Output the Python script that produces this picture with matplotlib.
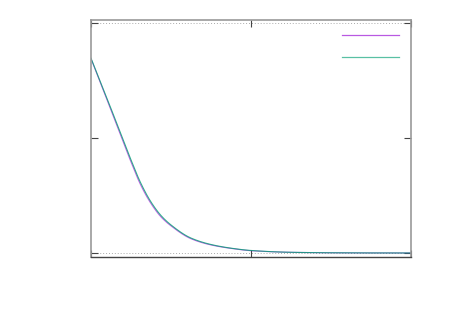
import numpy as np
import matplotlib
matplotlib.use("Agg")
import matplotlib.pyplot as plt
from matplotlib.lines import Line2D

# values
x = [0.0, 0.0625, 0.125, 0.1875, 0.25, 0.3125, 0.375, 0.4375, 0.5, 0.625, 0.75, 0.875, 1.0, 1.25, 1.5, 1.75, 2.0]
y_a = [0.845, 0.734, 0.621, 0.508, 0.396, 0.293, 0.215, 0.157, 0.118, 0.062, 0.035, 0.020, 0.010, 0.003, 0.001, 0.0003, 0.0001]
y_b = [0.847, 0.738, 0.628, 0.517, 0.405, 0.302, 0.222, 0.163, 0.122, 0.065, 0.037, 0.021, 0.011, 0.003, 0.001, 0.0003, 0.0001]
labels = [" ", " "]
colors = ["#9400d3", "#009e73"]


def pchip(xk, yk, xs):
    # monotone cubic through the read points, just for a smooth line
    xk = np.asarray(xk, float)
    yk = np.asarray(yk, float)
    h = np.diff(xk)
    d = np.diff(yk) / h
    m = np.zeros_like(yk)
    for i in range(1, len(xk) - 1):
        if d[i - 1] * d[i] > 0:
            w1 = 2 * h[i] + h[i - 1]
            w2 = h[i] + 2 * h[i - 1]
            m[i] = (w1 + w2) / (w1 / d[i - 1] + w2 / d[i])
    m[0] = d[0]
    m[-1] = d[-1]
    idx = np.clip(np.searchsorted(xk, xs) - 1, 0, len(xk) - 2)
    t = (xs - xk[idx]) / h[idx]
    h00 = 2 * t**3 - 3 * t**2 + 1
    h10 = t**3 - 2 * t**2 + t
    h01 = -2 * t**3 + 3 * t**2
    h11 = t**3 - t**2
    return h00 * yk[idx] + h10 * h[idx] * m[idx] + h01 * yk[idx + 1] + h11 * h[idx] * m[idx + 1]


fig = plt.figure(figsize=(4.5, 3.15), dpi=100)
ax = fig.add_axes([0.2022, 0.1841, 0.7111, 0.7524])

xs = np.linspace(0, 2, 500)
handles = []
for ys, c, a in zip([y_a, y_b], colors, [0.6, 0.8]):
    ax.plot(xs, pchip(x, ys, xs), color=c, lw=0.8, alpha=a)
    handles.append(Line2D([], [], color=c, lw=0.9, alpha=0.65, snap=True))

ax.axhline(0, color="#aaaaaa", lw=0.7, ls=(0, (1, 2)), zorder=0)
ax.axhline(1, color="#aaaaaa", lw=0.7, ls=(0, (1, 2)), zorder=0)

ax.set_xlim(0, 2)
ax.set_ylim(-0.0174, 1.013)
ax.set_xticks([0, 1, 2])
ax.set_yticks([0, 0.5, 1])
ax.set_xticklabels([])
ax.set_yticklabels([])
ax.tick_params(direction="in", length=5, width=0.8, color="#444444",
               top=True, right=True)
for s in ["left", "top", "right"]:
    ax.spines[s].set_color("#999999")
    ax.spines[s].set_linewidth(1.2)
ax.spines["bottom"].set_color("#444444")
ax.spines["bottom"].set_linewidth(1.0)

ax.legend(handles, labels, loc="upper right", frameon=False, fontsize=8,
          handlelength=5.13, labelspacing=1.1, handletextpad=0,
          borderpad=0, borderaxespad=0, bbox_to_anchor=(0.972, 0.956))

fig.savefig("out.png", dpi=100)
